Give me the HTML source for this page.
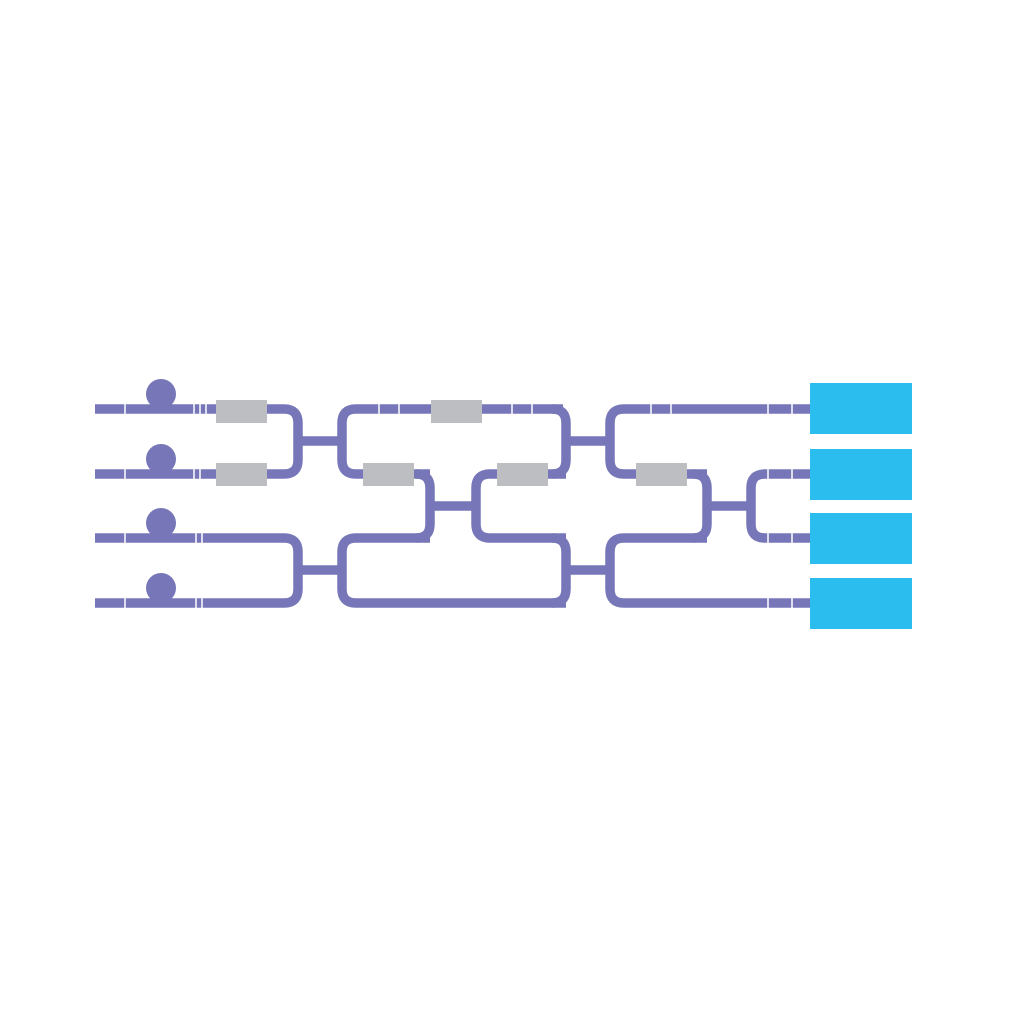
<!DOCTYPE html>
<html><head><style>html,body{margin:0;padding:0;background:#fff;}svg{display:block}</style></head>
<body>
<svg width="1024" height="1024" viewBox="0 0 1024 1024" xmlns="http://www.w3.org/2000/svg">
<rect width="1024" height="1024" fill="#fff"/>
<g fill="none" stroke="#7676b8" stroke-width="9.5" stroke-linejoin="round">
<path d="M95 409 H284 Q298 409 298 423 V460 Q298 474 284 474 H95"/>
<path d="M563 409 H356 Q342 409 342 423 V460 Q342 474 356 474 H430"/>
<path d="M298 441 H342"/>
<path d="M95 538 H284 Q298 538 298 552 V589 Q298 603 284 603 H95"/>
<path d="M430 538 H356 Q342 538 342 552 V589 Q342 603 356 603 H566"/>
<path d="M298 570 H342"/>
<path d="M416 474 Q430 474 430 488 V524 Q430 538 416 538"/>
<path d="M566 474 H490 Q476 474 476 488 V524 Q476 538 490 538 H566"/>
<path d="M430 506 H476"/>
<path d="M552 409 Q566 409 566 423 V460 Q566 474 552 474"/>
<path d="M810 409 H624 Q610 409 610 423 V460 Q610 474 624 474 H707"/>
<path d="M566 441 H610"/>
<path d="M552 538 Q566 538 566 552 V589 Q566 603 552 603"/>
<path d="M707 538 H624 Q610 538 610 552 V589 Q610 603 624 603 H810"/>
<path d="M566 570 H610"/>
<path d="M693 474 Q707 474 707 488 V524 Q707 538 693 538"/>
<path d="M810 474 H765 Q751 474 751 488 V524 Q751 538 765 538 H810"/>
<path d="M707 506 H751"/>
</g>
<g fill="#7676b8">
<circle cx="161" cy="394" r="15"/><circle cx="161" cy="459" r="15"/>
<circle cx="161" cy="523" r="15"/><circle cx="161" cy="588" r="15"/>
</g>
<g stroke="#fff" stroke-width="1.5">
<path d="M125 403v12M125 468v12M125 532v12M125 597v12"/>
<path d="M194 403v12M200 403v12M206 403v12M194 468v12M200 468v12M196 532v12M202 532v12M196 597v12M202 597v12"/>
<path d="M379 403v12M399 403v12M512 403v12M532 403v12"/>
<path d="M651 403v12M671 403v12M768 403v12M792 403v12"/>
<path d="M768 468v12M792 468v12M768 532v12M792 532v12M768 597v12M792 597v12"/>
</g>
<g fill="#bdbec2">
<rect x="216" y="400" width="51" height="23"/>
<rect x="216" y="463" width="51" height="23"/>
<rect x="431" y="400" width="51" height="23"/>
<rect x="363" y="463" width="51" height="23"/>
<rect x="497" y="463" width="51" height="23"/>
<rect x="636" y="463" width="51" height="23"/>
</g>
<g fill="#2bbdee">
<rect x="810" y="383" width="102" height="51"/>
<rect x="810" y="449" width="102" height="51"/>
<rect x="810" y="513" width="102" height="51"/>
<rect x="810" y="578" width="102" height="51"/>
</g>
</svg>
</body></html>
